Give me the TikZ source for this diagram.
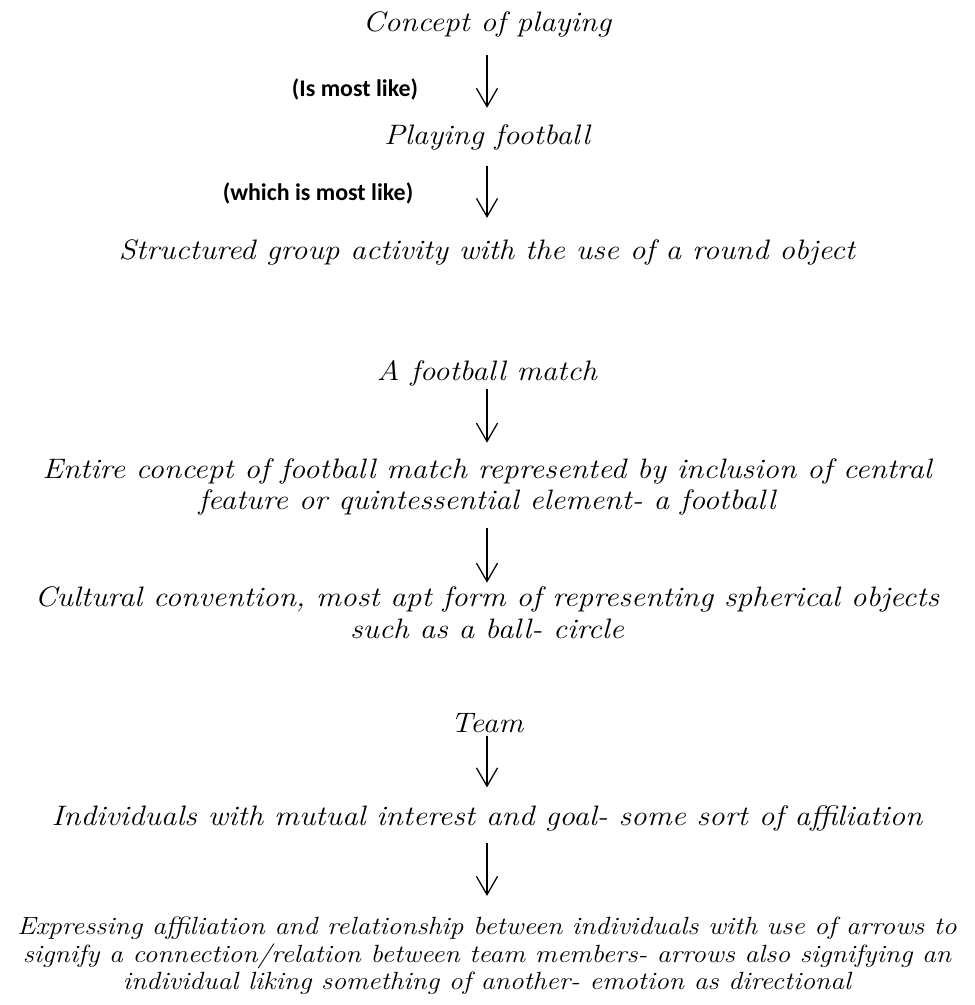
\documentclass[tikz,border=0pt]{standalone}
\usepackage{fontspec}
\newfontfamily\handfont{Latin Modern Roman}[FakeStretch=1.11]
\newfontfamily\labelfont{Carlito}
\usetikzlibrary{arrows.meta}

\begin{document}
\begin{tikzpicture}[x=0.025cm, y=-0.025cm,
    idea/.style={inner sep=2pt, align=center, font=\handfont\fontsize{20}{22.5}\selectfont\itshape},
    small idea/.style={idea, font=\handfont\fontsize{17.7}{19.5}\selectfont\itshape},
    relation/.style={inner sep=1pt, font=\labelfont\bfseries\fontsize{17}{20}\selectfont},
    link/.style={line width=0.9pt, -{Straight Barb[length=13pt, width=15pt]}}]
    %%%%% START %%%%%

    \useasboundingbox (0, 0) rectangle (974, 1005);

    \node[idea] (concept) at (487, 24) {Concept of playing};
    \node[idea] (playing) at (487, 137) {Playing football};
    \node[idea] (structured) at (487, 252) {Structured group activity with the use of a round object};

    \node[relation] (islike) at (355, 89) {(Is most like)};
    \node[relation] (whichlike) at (318, 193) {(which is most like)};

    \node[idea] (match) at (487, 373) {A football match};
    \node[idea] (entire) at (487, 487) {Entire concept of football match represented by inclusion of central\\feature or quintessential element- a football};
    \node[idea] (cultural) at (487, 613) {Cultural convention, most apt form of representing spherical objects\\such as a ball- circle};

    \node[idea] (team) at (487, 723) {Team};
    \node[idea] (individuals) at (487, 818) {Individuals with mutual interest and goal- some sort of affiliation};
    \node[small idea] (expressing) at (487, 956) {Expressing affiliation and relationship between individuals with use of arrows to\\signify a connection/relation between team members- arrows also signifying an\\individual liking something of another- emotion as directional};

    % arrows
    \draw[link, shorten <=11pt, shorten >=9.5pt] (concept) -- (playing);
    \draw[link, shorten <=9pt, shorten >=13pt] (playing) -- (structured);
    \draw[link, shorten <=0pt, shorten >=9pt] (match) -- (entire);
    \draw[link, shorten <=6.5pt, shorten >=1pt] (entire) -- (cultural);
    \draw[link, shorten <=0pt, shorten >=10.5pt] (team) -- (individuals);
    \draw[link, shorten <=6.5pt, shorten >=13pt] (individuals) -- (expressing);

    %%%%% END %%%%%
\end{tikzpicture}
\end{document}
